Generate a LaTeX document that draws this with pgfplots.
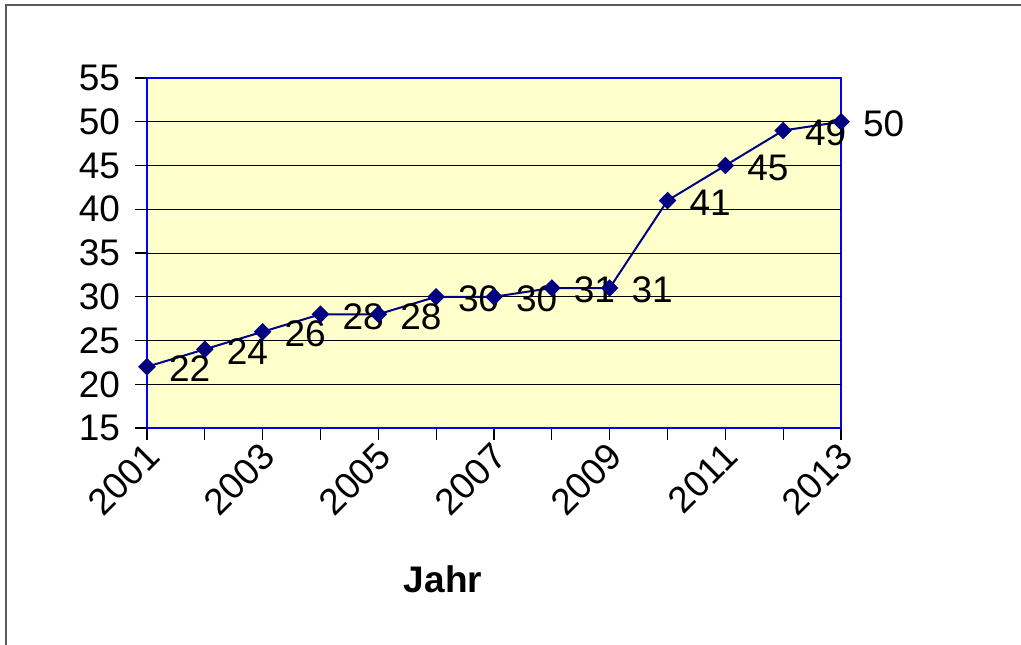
\documentclass[border=0pt]{standalone}
\usepackage{pgfplots}
\pgfplotsset{compat=1.18}
\usepackage{fontspec}
\setmainfont{Liberation Sans}
\definecolor{plotbg}{RGB}{255,255,204}
\definecolor{navyline}{RGB}{0,0,128}
\definecolor{framegray}{RGB}{90,90,90}
\begin{document}
\begin{tikzpicture}
\useasboundingbox (0pt,0pt) rectangle (510.5pt,-322pt);
\fill[white] (0pt,0pt) rectangle (510.5pt,-322pt);
\draw[framegray, line width=1pt] (2.75pt,-2.25pt) rectangle (560pt,-380pt);
\begin{axis}[
  at={(73.5pt,-214pt)}, anchor=south west,
  scale only axis, width=347pt, height=175pt,
  clip=false,
  xmin=2001, xmax=2013, ymin=15, ymax=55,
  xtick={2001,...,2013},
  xticklabels={2001,,2003,,2005,,2007,,2009,,2011,,2013},
  ytick={15,55},
  extra y ticks={20,25,...,50},
  extra y tick style={grid=major},
  grid style={black, line width=0.5pt},
  axis background/.style={fill=plotbg},
  axis line style={blue, line width=1pt},
  tick style={black, line width=0.6pt},
  tick align=outside, major tick length=6pt,
  xtick pos=left, ytick pos=left,
  /pgf/number format/assume math mode=true,
  ticklabel style={font=\fontsize{18.5}{22}\selectfont},
  yticklabel style={xshift=-4pt},
  xticklabel style={rotate=45, anchor=east, xshift=2pt, yshift=-5.5pt},
  nodes near coords,
  nodes near coords style={anchor=west, xshift=10.5pt, yshift=-1pt, inner sep=0pt,
    font=\fontsize{18.5}{22}\selectfont, text=black},
]
\addplot[navyline, line width=1pt, mark=square*, mark size=2.6pt,
  mark options={rotate=45, fill=navyline, draw=navyline}]
coordinates {
(2001,22) (2002,24) (2003,26) (2004,28) (2005,28) (2006,30) (2007,30)
(2008,31) (2009,31) (2010,41) (2011,45) (2012,49) (2013,50)
};
\end{axis}
\node[font=\bfseries\fontsize{18.5}{22}\selectfont] at (221.5pt,-289.5pt) {Jahr};
\end{tikzpicture}
\end{document}
